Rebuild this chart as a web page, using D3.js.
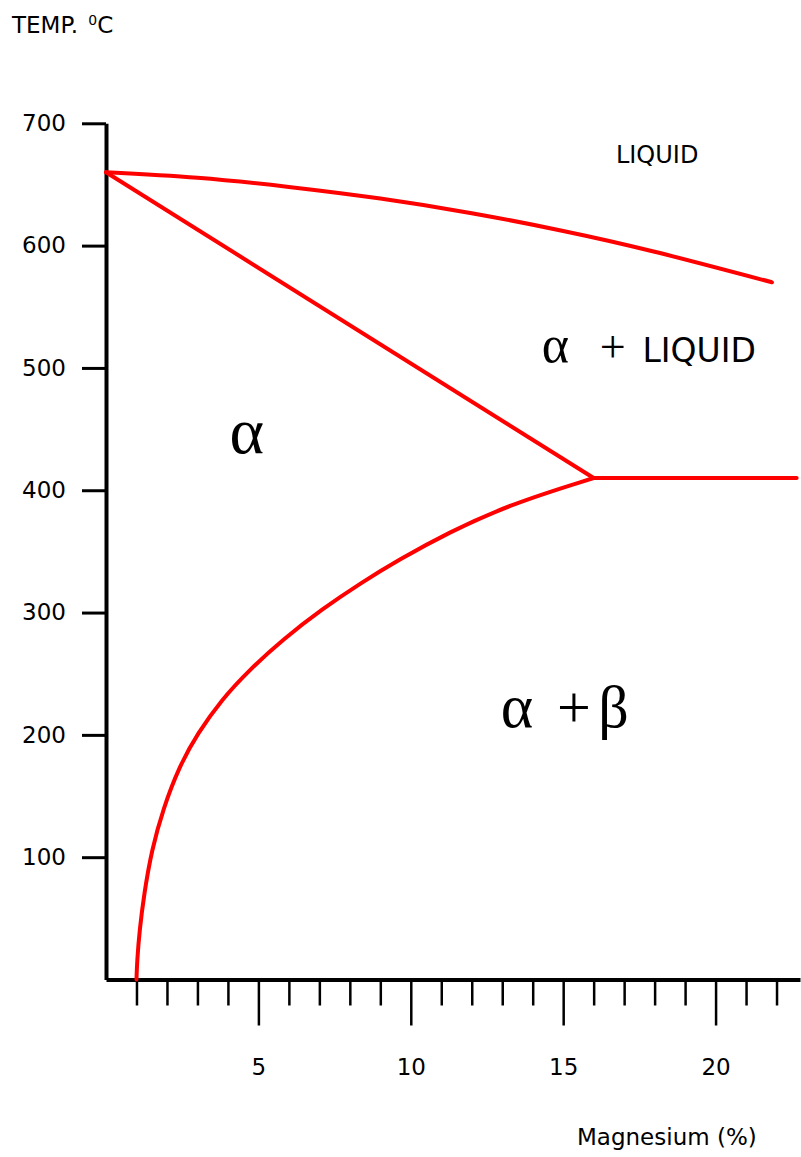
<!DOCTYPE html>
<html lang="en">

<head>
  <meta charset="utf-8">
  <title>Al-Mg phase diagram</title>
  <script src="https://d3js.org/d3.v7.min.js"></script>
  <style>
    body {
      margin: 0;
      background: white;
    }
    .axis path, .axis line {
      stroke: black;
    }
    .axis text {
      font-family: "DejaVu Sans", sans-serif;
      font-size: 23px;
      fill: black;
    }
    .phase {
      fill: none;
      stroke: #ff0000;
      stroke-width: 4;
      stroke-linecap: round;
      stroke-linejoin: round;
    }
    .sans {
      font-family: "DejaVu Sans", sans-serif;
    }
    .serif {
      font-family: "Liberation Serif", "DejaVu Serif", serif;
    }
  </style>
</head>

<body>
  <div id="chart"></div>
  <script>
    var w = 801;
    var h = 1157;

    // tick values
    var yTicks = [100, 200, 300, 400, 500, 600, 700];
    var xMajor = [5, 10, 15, 20];
    var xMinor = [1, 2, 3, 4, 6, 7, 8, 9, 11, 12, 13, 14, 16, 17, 18, 19, 21, 22];

    // phase boundaries, [Mg %, temp C]
    var liquidus = [[0, 660], [3, 655.5], [6, 648], [9, 638.5], [12, 626.5],
      [15, 612], [18, 595], [21.85, 570]];
    var solidus = [[0, 660], [16, 410]];
    var eutectic = [[16, 410], [22.66, 410]];
    // ordered from the eutectic point down to room temperature
    var solvus = [[16, 410], [13.3, 389], [11.2, 365], [9.6, 343], [8.35, 324], [7.1, 303],
      [5.8, 278], [4.7, 253], [3.8, 229], [3.0, 201], [2.4, 174], [1.88, 140],
      [1.5, 106], [1.25, 70], [1.1, 40], [1.02, 15], [1.0, 0]];

    // region labels
    var labels = [
      {text: 'LIQUID', mg: 16.73, t: 667.6, cls: 'sans', size: 24},
      {text: 'α', mg: 14.3, t: 505, cls: 'serif', size: 52},
      {text: '+', mg: 16.2, t: 505, cls: 'serif', size: 46},
      {text: 'LIQUID', mg: 17.6, t: 505, cls: 'sans', size: 33},
      {text: 'α', mg: 4.05, t: 430.5, cls: 'serif', size: 66},
      {text: 'α', mg: 12.95, t: 206.7, cls: 'serif', size: 62},
      {text: '+', mg: 14.8, t: 206.7, cls: 'serif', size: 60},
      {text: 'β', mg: 16.15, t: 206.7, cls: 'serif', size: 60}
    ];

    var x = d3.scaleLinear()
      .domain([0, 22.77])
      .range([106, 800]);
    var y = d3.scaleLinear()
      .domain([0, 700])
      .range([979.5, 123.3]);

    var svg = d3.select('#chart').append('svg')
      .attr('width', w)
      .attr('height', h);

    // y axis
    var yAxis = svg.append('g')
      .attr('class', 'axis')
      .attr('transform', 'translate(' + x(0) + ',0)')
      .call(d3.axisLeft(y).tickValues(yTicks).tickSize(24).tickSizeOuter(0).tickPadding(16));
    yAxis.select('.domain').attr('stroke-width', 4);
    yAxis.selectAll('.tick line').attr('stroke-width', 3);

    // x axis, minor ticks
    var xAxisMinor = svg.append('g')
      .attr('class', 'axis')
      .attr('transform', 'translate(0,' + y(0) + ')')
      .call(d3.axisBottom(x).tickValues(xMinor).tickSize(26).tickSizeOuter(0).tickFormat(''));
    xAxisMinor.select('.domain').attr('stroke-width', 4);
    xAxisMinor.selectAll('.tick line').attr('stroke-width', 2.5);

    // x axis, major ticks with labels
    var xAxisMajor = svg.append('g')
      .attr('class', 'axis')
      .attr('transform', 'translate(0,' + y(0) + ')')
      .call(d3.axisBottom(x).tickValues(xMajor).tickSize(46).tickSizeOuter(0).tickPadding(33));
    xAxisMajor.select('.domain').remove();
    xAxisMajor.selectAll('.tick line').attr('stroke-width', 2.5);

    // phase lines
    var line = d3.line()
      .x(function (d) { return x(d[0]); })
      .y(function (d) { return y(d[1]); });

    svg.append('path').attr('class', 'phase')
      .attr('d', line.curve(d3.curveNatural)(liquidus));
    svg.append('path').attr('class', 'phase')
      .attr('d', line.curve(d3.curveLinear)(solidus));
    svg.append('path').attr('class', 'phase')
      .attr('d', line.curve(d3.curveLinear)(eutectic));
    svg.append('path').attr('class', 'phase')
      .attr('d', line.curve(d3.curveBasis)(solvus));

    // region labels
    svg.selectAll('text.region')
      .data(labels)
      .enter().append('text')
      .attr('class', function (d) { return 'region ' + d.cls; })
      .attr('x', function (d) { return x(d.mg); })
      .attr('y', function (d) { return y(d.t); })
      .style('font-size', function (d) { return d.size + 'px'; })
      .text(function (d) { return d.text; });

    // axis titles
    var yTitle = svg.append('text')
      .attr('class', 'sans')
      .attr('x', 12)
      .attr('y', 32.5)
      .style('font-size', '23px')
      .text('TEMP. ');
    yTitle.append('tspan')
      .attr('dx', 3)
      .attr('dy', -8)
      .style('font-size', '14px')
      .text('0');
    yTitle.append('tspan')
      .attr('dy', 8)
      .text('C');

    svg.append('text')
      .attr('class', 'sans')
      .attr('x', 577)
      .attr('y', 1145)
      .style('font-size', '23px')
      .text('Magnesium (%)');
  </script>
</body>

</html>
